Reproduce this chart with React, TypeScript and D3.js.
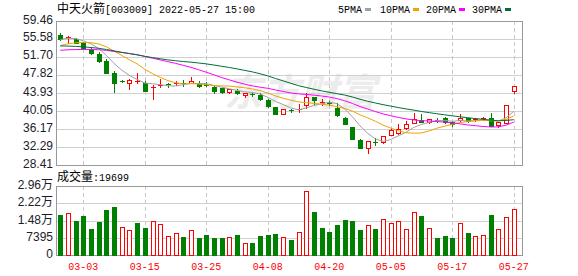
import React from "react";
import * as d3 from "d3";

const dates = [
  "02-28","03-01","03-02","03-03","03-04","03-07","03-08","03-09","03-10","03-11",
  "03-14","03-15","03-16","03-17","03-18","03-21","03-22","03-23","03-24","03-25",
  "03-28","03-29","03-30","03-31","04-01","04-06","04-07","04-08","04-11","04-12",
  "04-13","04-14","04-15","04-18","04-19","04-20","04-21","04-22","04-25","04-26",
  "04-27","04-28","04-29","05-05","05-06","05-09","05-10","05-11","05-12","05-13",
  "05-16","05-17","05-18","05-19","05-20","05-23","05-24","05-25","05-26","05-27",
];

const opens = [
  56.51,55.79,55.58,54.61,53.21,52.34,50.83,48.25,46.63,46.03,
  46.48,46.09,45.06,45.44,45.79,46.05,46.11,46.13,46.09,45.60,
  45.19,44.97,44.15,44.43,43.50,43.68,43.57,42.38,40.85,39.41,
  40.23,40.42,41.35,43.03,41.93,41.78,40.77,38.61,36.60,33.80,
  32.14,33.28,33.37,34.94,35.37,36.39,37.53,38.11,37.62,38.22,
  38.44,37.75,38.18,38.48,38.29,38.33,38.65,36.93,37.57,44.43,
];
const highs = [
  56.81,56.27,55.69,54.87,53.85,52.78,51.27,48.68,46.74,47.06,
  48.18,46.52,45.66,46.85,46.13,46.52,46.74,47.49,46.52,46.41,
  45.34,45.12,44.84,44.80,43.93,43.93,44.04,42.64,40.92,40.59,
  40.38,41.50,43.83,43.07,42.58,42.27,41.71,38.76,36.71,33.95,
  33.69,34.23,34.77,36.39,37.25,37.90,39.56,39.41,38.33,38.48,
  38.76,37.90,39.41,38.54,38.54,38.70,39.62,37.72,41.28,45.38,
];
const lows = [
  55.36,54.61,54.72,53.47,52.34,50.68,48.25,44.21,46.31,44.90,
  46.16,44.37,42.64,45.29,45.16,45.66,45.55,46.05,45.23,45.34,
  44.04,43.93,43.93,43.72,43.18,43.29,42.53,40.92,39.30,39.30,
  39.84,39.90,40.70,41.56,41.41,41.28,39.08,37.25,33.91,32.08,
  31.06,32.79,33.26,34.88,35.20,36.28,37.47,37.68,37.57,37.75,
  37.57,36.88,37.96,37.68,37.90,38.11,36.82,36.60,37.47,44.00,
];
const closes = [
  55.58,55.95,54.78,53.60,52.56,50.90,48.31,46.09,46.48,46.80,
  46.57,44.47,45.23,45.60,45.68,46.18,46.03,46.52,45.55,45.49,
  44.26,44.15,44.75,43.83,43.89,43.59,42.60,41.13,39.41,40.49,
  39.95,40.59,43.01,42.36,42.04,41.67,39.19,37.32,33.95,32.14,
  33.59,33.18,34.60,36.02,36.24,37.32,38.39,37.75,38.26,38.13,
  37.68,37.32,38.61,37.79,38.39,38.65,36.88,37.68,41.28,45.38,
];
const volumes = [
  17148,18005,14576,16719,11146,14147,19291,20577,11875,10717,
  13718,11575,14447,13290,8017,9431,7717,10588,7288,8574,
  7288,7288,7717,8574,5144,5144,8145,8574,9003,7574,
  6430,9860,27300,18434,11575,9860,12860,15004,14576,10717,
  12717,11146,15290,13718,14447,11003,18291,16719,11432,7288,
  8145,7288,13575,9431,8017,8431,17148,11003,16147,19699,
];
// closes of the 29 sessions before the first visible one (estimated so the MAs match)
const priorCloses = [
  57.2,56.8,56.5,56.9,56.2,55.6,55.3,55.8,55.1,54.3,
  54.0,53.6,53.2,52.9,51.8,51.2,50.6,50.9,51.3,51.8,
  52.2,52.5,53.0,53.2,53.55,54.5,55.2,55.9,56.1,
];

const priceTicks = [28.41, 32.29, 36.17, 40.05, 43.93, 47.82, 51.70, 55.58, 59.46];
const priceTickLabels = ["28.41","32.29","36.17","40.05","43.93","47.82","51.70","55.58","59.46"];
const volTicks = [0, 7395, 14790, 22185, 29580];
const volTickLabels = ["0", "7395", "1.48万", "2.22万", "2.96万"];
const dateTicks = ["03-03","03-15","03-25","04-08","04-20","05-05","05-17","05-27"];

const maPeriods = [5, 10, 20, 30];
const maNames = ["5PMA", "10PMA", "20PMA", "30PMA"];
const maColors = ["#a0a0a0", "#f2a200", "#ff00ff", "#006f36"];

const title = "中天火箭";
const titleRest = "[003009] 2022-05-27 15:00";
const volLabel = "成交量";

const RED = "#ff0000";
const GREEN = "#008000";
const MONO = "'Liberation Mono', 'DejaVu Sans Mono', monospace";
const CJK = "'Noto Sans CJK SC', sans-serif";
const SANS = "'Liberation Sans', Arial, 'Noto Sans CJK SC', sans-serif";

export default function App() {
  const L = 56, R = 522, PT = 21, PB = 165, VT = 186, VB = 255;
  const n = closes.length;
  const x = d3.scaleLinear().domain([0, n - 1]).range([60.3, 513.7]);
  const yP = d3.scaleLinear().domain([priceTicks[0], priceTicks[priceTicks.length - 1]]).range([PB, PT]);
  const yV = d3.scaleLinear().domain([0, volTicks[volTicks.length - 1]]).range([VB, VT]);
  const crisp = (v: number) => Math.round(v) + 0.5;

  const all = priorCloses.concat(closes);
  const off = priorCloses.length;
  const maSeries = maPeriods.map((p) =>
    closes.map((_, i) => d3.mean(all.slice(i + off - p + 1, i + off + 1)) as number)
  );
  const line = d3.line<number>().x((_, i) => x(i)).y((d) => yP(d));

  const monoText = (s: string, px: number, py: number, fill: string, anchor: string = "start") => (
    <text x={px} y={py} fill={fill} fontFamily={MONO} fontSize={11} textAnchor={anchor}
      textLength={s.length * 6} lengthAdjust="spacingAndGlyphs">{s}</text>
  );

  return (
    <svg width={578} height={276} style={{ position: "absolute", left: 0, top: 0, background: "#fff" }}>
      <rect x={0} y={0} width={578} height={276} fill="#fff" />
      {/* watermark */}
      <text x={300} y={106} fill="#ececec" fontFamily={CJK} fontSize={38} fontWeight={700} textAnchor="middle"
        fontStyle="italic">东方财富</text>

      {/* horizontal grids - price */}
      {priceTicks.map((t, k) => (
        <line key={"pg" + k} x1={L} x2={R} y1={crisp(yP(t))} y2={crisp(yP(t))} stroke="#d0d0d0" />
      ))}
      {volTicks.map((t, k) => (
        <line key={"vg" + k} x1={L} x2={R} y1={crisp(yV(t))} y2={crisp(yV(t))} stroke="#d0d0d0" />
      ))}
      {/* vertical dashed grids */}
      {dateTicks.map((d, k) => {
        const xi = crisp(x(dates.indexOf(d)));
        return (
          <g key={"vd" + k}>
            <line x1={xi} x2={xi} y1={PT} y2={PB} stroke="#c8c8c8" strokeDasharray="4,3" />
            <line x1={xi} x2={xi} y1={VT} y2={VB} stroke="#c8c8c8" strokeDasharray="4,3" />
          </g>
        );
      })}
      {/* frames */}
      <rect x={L + 0.5} y={PT + 0.5} width={R - L} height={PB - PT} fill="none" stroke="#999" />
      <rect x={L + 0.5} y={VT + 0.5} width={R - L} height={VB - VT} fill="none" stroke="#999" />

      {/* candles */}
      {closes.map((c, i) => {
        const o = opens[i], h = highs[i], lo = lows[i];
        const cx = Math.round(x(i));
        const up = c >= o;
        const yO = Math.round(yP(o)), yC = Math.round(yP(c));
        const yH = Math.round(yP(h)), yL = Math.round(yP(lo));
        const top = Math.min(yO, yC), bot = Math.max(yO, yC);
        const col = up ? RED : GREEN;
        if (bot - top <= 1) {
          return (
            <g key={"c" + i}>
              <line x1={cx + 0.5} x2={cx + 0.5} y1={yH} y2={yL + 1} stroke={col} />
              <line x1={cx - 2} x2={cx + 3} y1={top + 0.5} y2={top + 0.5} stroke={col} />
            </g>
          );
        }
        return (
          <g key={"c" + i}>
            <line x1={cx + 0.5} x2={cx + 0.5} y1={yH} y2={top} stroke={col} />
            <line x1={cx + 0.5} x2={cx + 0.5} y1={bot} y2={yL + 1} stroke={col} />
            {up ? (
              <rect x={cx - 1.5} y={top + 0.5} width={4} height={bot - top} fill="#fff" stroke={col} />
            ) : (
              <rect x={cx - 2} y={top} width={5} height={bot - top + 1} fill={col} />
            )}
          </g>
        );
      })}

      {/* moving averages */}
      {maSeries.map((s, k) => (
        <path key={"ma" + k} d={line(s) || ""} fill="none" stroke={maColors[k]} strokeWidth={1} />
      ))}

      {/* volume bars */}
      {volumes.map((v, i) => {
        const prev = i === 0 ? priorCloses[priorCloses.length - 1] : closes[i - 1];
        const up = closes[i] >= prev;
        const cx = Math.round(x(i));
        const yT = Math.round(yV(v));
        return up ? (
          <rect key={"v" + i} x={cx - 1.5} y={yT + 0.5} width={4} height={VB - yT} fill="#fff" stroke={RED} />
        ) : (
          <rect key={"v" + i} x={cx - 2} y={yT} width={5} height={VB - yT + 1} fill={GREEN} />
        );
      })}

      {/* y labels */}
      {priceTicks.map((t, k) => (
        <text key={"pl" + k} x={53} y={yP(t) + 2.5} textAnchor="end" fontFamily={SANS} fontSize={12} fill="#1c1c2a">
          {priceTickLabels[k]}
        </text>
      ))}
      {volTicks.map((t, k) => (
        <text key={"vl" + k} x={53} y={yV(t) + 3} textAnchor="end" fontFamily={SANS} fontSize={12} fill="#1c1c2a">
          {volTickLabels[k]}
        </text>
      ))}

      {/* x labels */}
      {dateTicks.map((d, k) => (
        <g key={"xl" + k}>{monoText(d, x(dates.indexOf(d)), 270, RED, "middle")}</g>
      ))}

      {/* title */}
      <text x={57} y={12.5} fontFamily={CJK} fontSize={12} fill="#000">{title}</text>
      {monoText(titleRest, 105, 12.5, "#000")}

      {/* legend */}
      {maNames.map((nm, k) => {
        const starts = [338, 380, 426, 472];
        const sx = starts[k];
        return (
          <g key={"lg" + k}>
            {monoText(nm, sx, 12.5, "#000")}
            <rect x={sx + nm.length * 6 + 3} y={8} width={6} height={3} fill={maColors[k]} />
          </g>
        );
      })}

      {/* volume label */}
      <text x={57} y={181} fontFamily={CJK} fontSize={12} fill="#000">{volLabel}</text>
      {monoText(":" + volumes[volumes.length - 1], 93, 181, "#000")}
    </svg>
  );
}
